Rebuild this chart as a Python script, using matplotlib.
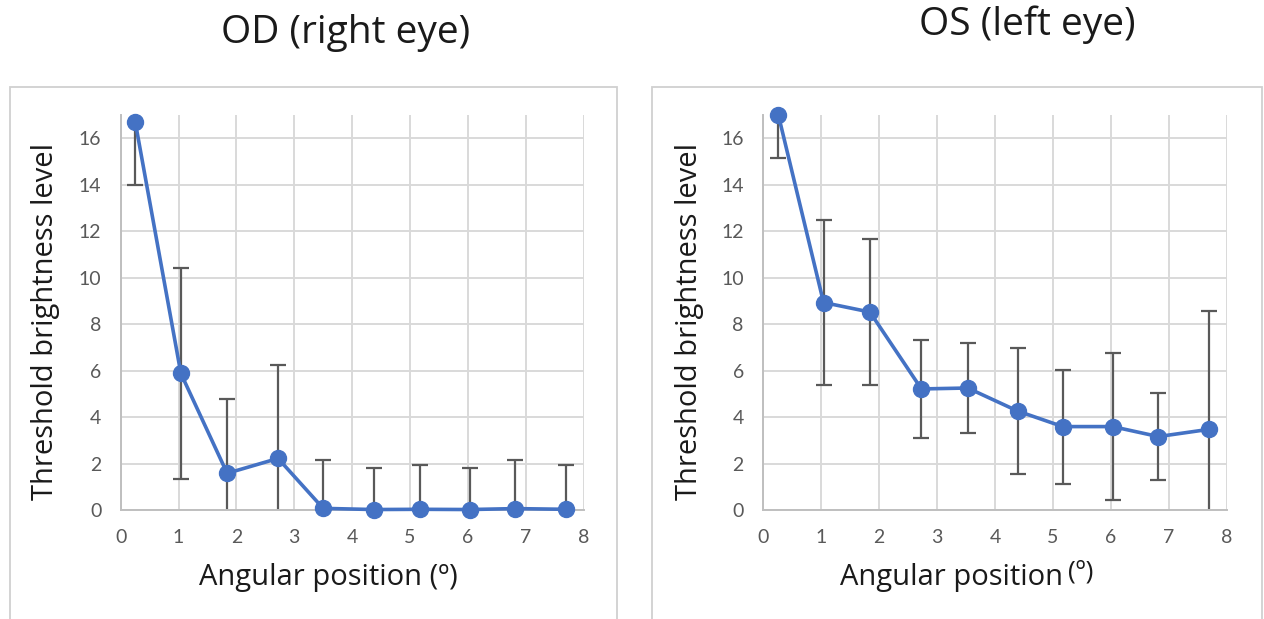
import matplotlib
matplotlib.use("Agg")
import matplotlib.pyplot as plt
from matplotlib.patches import Rectangle

# ---- data ----
od_x = [0.25, 1.04, 1.84, 2.72, 3.50, 4.38, 5.17, 6.03, 6.82, 7.69]
od_y = [16.72, 5.88, 1.58, 2.22, 0.07, 0.02, 0.03, 0.02, 0.06, 0.03]
od_err = [2.73, 4.54, 3.20, 4.02, 2.08, 1.77, 1.91, 1.77, 2.09, 1.91]

os_x = [0.26, 1.04, 1.84, 2.73, 3.53, 4.39, 5.17, 6.03, 6.82, 7.69]
os_y = [17.0, 8.93, 8.52, 5.21, 5.25, 4.26, 3.59, 3.59, 3.16, 3.47]
os_err = [1.86, 3.53, 3.13, 2.10, 1.92, 2.73, 2.45, 3.18, 1.89, 5.08]

titles = ["OD (right eye)", "OS (left eye)"]
xticks = [0, 1, 2, 3, 4, 5, 6, 7, 8]
yticks = [0, 2, 4, 6, 8, 10, 12, 14, 16]
ylabel = "Threshold brightness level"

W, H = 1264, 619
fig = plt.figure(figsize=(W / 100, H / 100), dpi=100)

line_col = "#4472C4"
err_col = "#595959"
grid_col = "#D9D9D9"
tick_col = "#595959"
text_col = "#1A1A1A"
title_font = "Open Sans"
tick_font = "Lato"

def px(x0, y0, x1, y1):
    return [x0 / W, 1 - y1 / H, (x1 - x0) / W, (y1 - y0) / H]

# outer boxes
for (bx0, bx1) in [(10, 616.5), (652, 1262)]:
    fig.patches.append(Rectangle((bx0 / W, -0.01), (bx1 - bx0) / W, 1 - 87 / H + 0.01,
                                 transform=fig.transFigure, fill=False,
                                 edgecolor="#D0D0D0", linewidth=1.3))

axes_px = [(120.7, 115, 583.5, 510), (763.3, 115, 1226.7, 510)]
data = [(od_x, od_y, od_err), (os_x, os_y, os_err)]
title_pos = [(346, 33), (1027, 25)]
ylabel_x = [46, 689]

for i, ((x0, y0, x1, y1), (xs, ys, es)) in enumerate(zip(axes_px, data)):
    ax = fig.add_axes(px(x0, y0, x1, y1))
    ax.set_xlim(0, 8)
    ax.set_ylim(0, 17)
    ax.set_xticks(xticks)
    ax.set_yticks(yticks)
    ax.grid(True, color=grid_col, linewidth=1.4)
    ax.set_axisbelow(True)
    for s in ["top", "right"]:
        ax.spines[s].set_visible(False)
    for s in ["left", "bottom"]:
        ax.spines[s].set_color("#BFBFBF")
        ax.spines[s].set_linewidth(1.4)
    ax.tick_params(length=0, labelsize=14, labelcolor=tick_col)
    ax.tick_params(axis="x", pad=14)
    ax.tick_params(axis="y", pad=14)
    for lab in ax.get_xticklabels() + ax.get_yticklabels():
        lab.set_fontfamily(tick_font)

    ax.errorbar(xs, ys, yerr=es, fmt="none", ecolor=err_col, elinewidth=1.6,
                capsize=6, capthick=1.6, zorder=2)
    ax.plot(xs, ys, color=line_col, linewidth=2.6, marker="o", markersize=11.5,
            zorder=3, clip_on=False)

    fig.text(ylabel_x[i] / W, 1 - 322 / H, ylabel, rotation=90, ha="center",
             va="center", fontsize=21, family=title_font, color=text_col)

    tx, ty = title_pos[i]
    fig.text(tx / W, 1 - ty / H, titles[i], ha="center", va="center",
             fontsize=28, family=title_font, color=text_col)

# x labels
fig.text(199 / W, 1 - 578 / H, "Angular position (º)", ha="left", va="center",
         fontsize=21, family=title_font, color=text_col)
fig.text(840 / W, 1 - 578 / H, "Angular position", ha="left", va="center",
         fontsize=21, family=title_font, color=text_col)
fig.text(1068 / W, 1 - 572 / H, "(º)", ha="left", va="center",
         fontsize=19, family=title_font, color=text_col)

fig.savefig("out.png", dpi=100, facecolor="white")
